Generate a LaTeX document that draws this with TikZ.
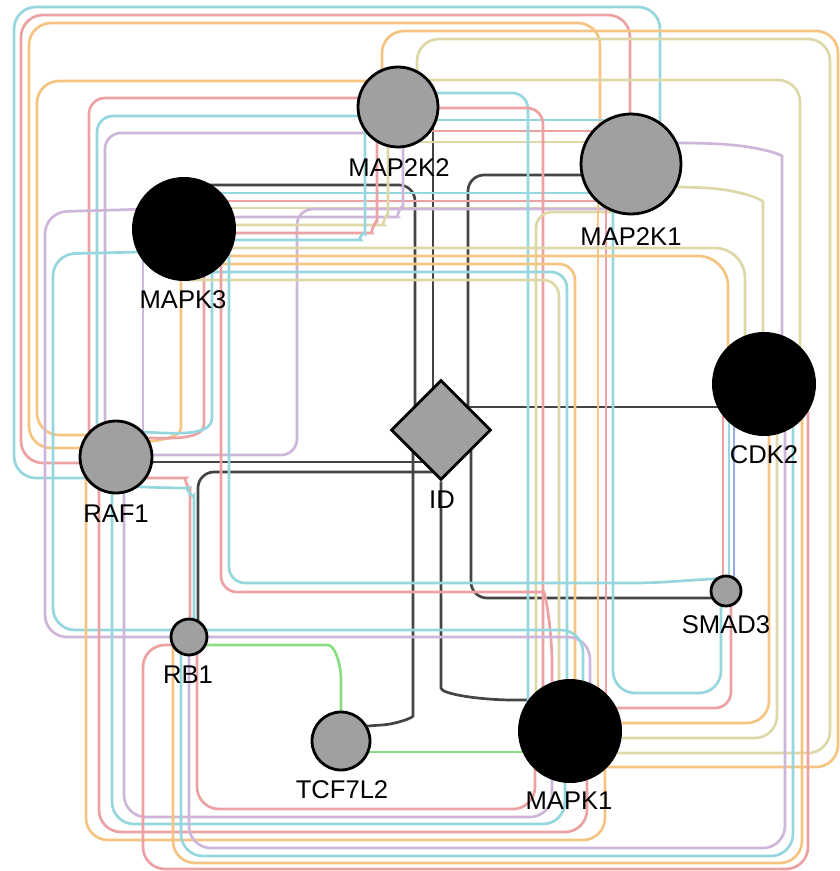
\documentclass[tikz,border=0pt]{standalone}
\usepackage{fontspec}
\setmainfont{Liberation Sans}
\usetikzlibrary{shapes.geometric,backgrounds}

\definecolor{nodegray}{RGB}{160,160,160}
\definecolor{cyanedge}{RGB}{150,214,222}
\definecolor{rededge}{RGB}{236,162,162}
\definecolor{orangeedge}{RGB}{246,196,130}
\definecolor{purpleedge}{RGB}{206,182,218}
\definecolor{khakiedge}{RGB}{222,216,168}
\definecolor{greenedge}{RGB}{140,220,130}
\definecolor{blueedge}{RGB}{150,172,226}
\definecolor{darkedge}{RGB}{68,68,68}

\tikzset{
  gnode/.style={circle, fill=nodegray, draw=black, line width=2.8pt, inner sep=0pt},
  bnode/.style={circle, fill=black, inner sep=0pt},
  lbl/.style={anchor=base, inner sep=0pt, font=\fontsize{25.6}{28}\selectfont},
  ln/.style={line width=2.7pt, rounded corners=16pt},
  darkln/.style={ln, draw=darkedge},
  cyanln/.style={ln, draw=cyanedge},
  redln/.style={ln, draw=rededge},
  orangeln/.style={ln, draw=orangeedge},
  purpleln/.style={ln, draw=purpleedge},
  khakiln/.style={ln, draw=khakiedge},
  greenln/.style={ln, draw=greenedge},
  blueln/.style={ln, draw=blueedge}
}

\begin{document}
\begin{tikzpicture}[x=1pt, y=-1pt]
\useasboundingbox (0,0) rectangle (840,871);

% nodes
\node[gnode, minimum size=80pt] (map2k2) at (398,107) {};
\node[gnode, minimum size=100pt] (map2k1) at (631,164) {};
\node[bnode, minimum size=104pt] (mapk3) at (184,229) {};
\node[bnode, minimum size=104pt] (cdk2) at (764,384) {};
\node[diamond, aspect=1, fill=nodegray, draw=black, line width=2.8pt, inner sep=0pt, minimum size=100pt] (id) at (441,430) {};
\node[gnode, minimum size=72pt] (raf1) at (116,457) {};
\node[gnode, minimum size=30pt] (smad3) at (726,591) {};
\node[gnode, minimum size=36pt] (rb1) at (189,637) {};
\node[gnode, minimum size=58pt] (tcf7l2) at (341,741) {};
\node[bnode, minimum size=104pt] (mapk1) at (570,731) {};

% labels
\node[lbl] (map2k2l) at (399,176) {MAP2K2};
\node[lbl] (map2k1l) at (631,245) {MAP2K1};
\node[lbl] (mapk3l) at (183,308) {MAPK3};
\node[lbl] (cdk2l) at (764,463) {CDK2};
\node[lbl] (idl) at (442,508) {ID};
\node[lbl] (raf1l) at (116,522) {RAF1};
\node[lbl] (smad3l) at (726,633) {SMAD3};
\node[lbl] (rb1l) at (188,683) {RB1};
\node[lbl] (tcf7l2l) at (342,798) {TCF7L2};
\node[lbl] (mapk1l) at (569,809) {MAPK1};

\begin{scope}[on background layer]
% ID edges
\draw[darkln] (mapk3 |- 0,185) -- (415,185) -- (id -| 415,0);
\draw[darkln] (map2k2 -| 433,0) -- (id -| 433,0);
\draw[darkln] (map2k1 |- 0,175) -- (468,175) -- (id -| 468,0);
\draw[darkln] (id |- 0,407) -- (cdk2 |- 0,407);
\draw[darkln] (raf1 |- 0,462) -- (id |- 0,462);
\draw[darkln] (id |- 0,472) -- (198,472) -- (rb1 -| 198,0);
\draw[darkln] (id) -- (441,672) .. controls (441,694) and (480,700) .. (530,700) -- (mapk1 |- 0,700);
\draw[darkln] (id -| 471,0) -- (471,598) -- (smad3 |- 0,598);
\draw[darkln] (id -| 413,0) -- (413,700) .. controls (413,718) and (395,724) .. (368,726) -- (tcf7l2 |- 0,728);

% green and blue
\draw[greenln] (rb1 |- 0,645) -- (312,645) .. controls (335,645) and (341,665) .. (341,695) -- (tcf7l2);
\draw[greenln] (tcf7l2 |- 0,752) -- (mapk1 |- 0,752);
\draw[blueln] (cdk2 -| 734,0) -- (smad3 -| 734,0);

% outer loops RAF1
\draw[cyanln, rounded corners=22pt] (raf1 |- 0,478) -- (14,478) -- (14,7) -- (660,7) -- (map2k1 -| 660,0);
\draw[redln, rounded corners=22pt] (raf1 |- 0,463) -- (21,463) -- (21,15) -- (630,15) -- (map2k1 -| 630,0);
\draw[orangeln, rounded corners=22pt] (raf1 |- 0,448) -- (29,448) -- (29,23) -- (600,23) -- (map2k1 -| 600,0);

% MAP2K2 - RAF1
\draw[orangeln, rounded corners=22pt] (map2k2 |- 0,81) -- (37,81) -- (37,435) -- (raf1 |- 0,435);
\draw[redln] (map2k2 |- 0,98) -- (89,98) -- (raf1 -| 89,0);
\draw[cyanln] (map2k2 |- 0,116) -- (97,116) -- (raf1 -| 97,0);
\draw[purpleln] (map2k2 |- 0,133) -- (105,133) -- (raf1 -| 105,0);

% MAPK3 - RAF1
\draw[purpleln] (mapk3 -| 143,0) -- (raf1 -| 143,0);
\draw[orangeln] (mapk3 -| 181,0) -- (181,412) to[out=-90,in=0] (raf1 |- 0,443);
\draw[redln] (mapk3 -| 204,0) -- (204,408) to[out=-90,in=0] (raf1 |- 0,437);
\draw[cyanln] (mapk3 -| 212,0) -- (212,402) to[out=-90,in=0] (raf1 |- 0,431);

% MAPK3 - MAP2K1
\draw[cyanln] (mapk3 |- 0,193) -- (map2k1 |- 0,193);
\draw[redln] (mapk3 |- 0,201) -- (map2k1 |- 0,201);
\draw[khakiln] (mapk3 |- 0,208) -- (map2k1 |- 0,208);

% MAP2K1 - RAF1
\draw[purpleln] (map2k1 |- 0,209) -- (297,209) -- (297,455) -- (raf1 |- 0,455);

% MAPK3 - MAP2K2
\draw[purpleln] (mapk3 |- 0,217) -- (382,217) to[out=0,in=-90] (403,190) -- (map2k2 -| 403,0);
\draw[khakiln] (mapk3 |- 0,225) -- (368,225) to[out=0,in=-90] (388,198) -- (map2k2 -| 388,0);
\draw[redln] (mapk3 |- 0,233) -- (356,233) to[out=0,in=-90] (377,205) -- (map2k2 -| 377,0);
\draw[cyanln] (mapk3 |- 0,240) -- (345,240) to[out=0,in=-90] (365,218) -- (map2k2 -| 365,0);

% MAP2K2 - MAP2K1
\draw[cyanln] (map2k2 |- 0,120) -- (map2k1 |- 0,120);
\draw[redln] (map2k2 |- 0,131) -- (map2k1 |- 0,131);
\draw[khakiln] (map2k2 |- 0,142) -- (map2k1 |- 0,142);

% MAP2K2 - MAPK1
\draw[cyanln] (map2k2 |- 0,93) -- (528,93) -- (mapk1 -| 528,0);
\draw[redln] (map2k2 |- 0,108) -- (543,108) -- (mapk1 -| 543,0);
\draw[orangeln, rounded corners=22pt] (map2k2 -| 382,0) -- (382,31) -- (838,31) -- (838,767) -- (mapk1 |- 0,767);
\draw[khakiln, rounded corners=22pt] (map2k2 -| 417,0) -- (417,39) -- (830,39) -- (830,753) -- (mapk1 |- 0,753);

% MAP2K2, MAP2K1 - CDK2
\draw[khakiln, rounded corners=22pt] (map2k2 |- 0,80) -- (800,80) -- (cdk2 -| 800,0);
\draw[purpleln] (map2k1 |- 0,143) -- (700,143) .. controls (760,146) and (782,155) .. (782,172) -- (cdk2 -| 782,0);
\draw[khakiln] (map2k1 |- 0,187) -- (690,187) .. controls (742,190) and (763,200) .. (763,218) -- (cdk2 -| 763,0);

% MAP2K1 - MAPK1, SMAD3
\draw[khakiln] (map2k1 |- 0,212) -- (536,212) -- (mapk1 -| 536,0);
\draw[orangeln] (map2k1 -| 598,0) -- (mapk1 -| 598,0);
\draw[redln] (map2k1 -| 606,0) -- (mapk1 -| 606,0);
\draw[cyanln, rounded corners=22pt] (map2k1 -| 613,0) -- (613,693) -- (721,693) -- (smad3 -| 721,0);

% MAPK3 - CDK2
\draw[khakiln, rounded corners=30pt] (mapk3 |- 0,248) -- (745,248) -- (cdk2 -| 745,0);
\draw[orangeln, rounded corners=30pt] (mapk3 |- 0,256) -- (728,256) -- (cdk2 -| 728,0);

% MAPK3 - MAPK1
\draw[orangeln] (mapk3 |- 0,264) -- (575,264) -- (mapk1 -| 575,0);
\draw[cyanln] (mapk3 |- 0,272) -- (567,272) -- (mapk1 -| 567,0);
\draw[khakiln] (mapk3 |- 0,280) -- (559,280) -- (mapk1 -| 559,0);
\draw[redln] (mapk3 -| 221,0) -- (221,592) -- (528,592) .. controls (545,592) and (552,630) .. (552,680) -- (mapk1 -| 552,0);
\draw[purpleln, rounded corners=22pt] (mapk3 |- 0,208) -- (45,212) -- (45,637) -- (590,637) -- (mapk1 -| 590,0);
\draw[cyanln, rounded corners=22pt] (mapk3 |- 0,251) -- (53,254) -- (53,630) -- (583,630) -- (mapk1 -| 583,0);

% MAPK3 - SMAD3
\draw[cyanln] (mapk3 -| 229,0) -- (229,583) -- (650,583) -- (smad3 |- 0,578);

% RAF1 - MAPK1
\draw[orangeln, rounded corners=22pt] (raf1 -| 86,0) -- (86,840) -- (605,840) -- (mapk1 -| 605,0);
\draw[redln, rounded corners=22pt] (raf1 -| 99,0) -- (99,832) -- (587,832) -- (mapk1 -| 587,0);
\draw[cyanln, rounded corners=22pt] (raf1 -| 112,0) -- (112,824) -- (565,824) -- (mapk1 -| 565,0);
\draw[purpleln, rounded corners=22pt] (raf1 -| 124,0) -- (124,817) -- (552,817) -- (mapk1 -| 552,0);

% RAF1 - RB1
\draw[redln] (raf1 |- 0,478) -- (170,478) to[out=0,in=90] (190,505) -- (rb1 -| 190,0);
\draw[cyanln] (raf1 |- 0,486) -- (172,488) to[out=0,in=90] (194,512) -- (rb1 -| 194,0);

% RB1 - MAPK1, CDK2
\draw[redln, rounded corners=22pt] (rb1 -| 197,0) -- (197,809) -- (535,809) -- (mapk1 -| 535,0);
\draw[purpleln, rounded corners=22pt] (rb1 -| 189,0) -- (189,848) -- (785,848) -- (cdk2 -| 785,0);
\draw[cyanln, rounded corners=22pt] (rb1 -| 181,0) -- (181,856) -- (793,856) -- (cdk2 -| 793,0);
\draw[orangeln, rounded corners=22pt] (rb1 -| 173,0) -- (173,863) -- (802,863) -- (cdk2 -| 802,0);
\draw[redln, rounded corners=22pt] (rb1 |- 0,645) -- (143,645) -- (143,869) -- (808,869) -- (cdk2 -| 808,0);

% CDK2 - MAPK1, SMAD3
\draw[orangeln, rounded corners=22pt] (cdk2 -| 769,0) -- (769,723) -- (mapk1 |- 0,723);
\draw[khakiln, rounded corners=22pt] (cdk2 -| 777,0) -- (777,738) -- (mapk1 |- 0,738);
\draw[redln] (cdk2 -| 723,0) -- (smad3 -| 723,0);
\draw[cyanln] (cdk2 -| 729,0) -- (smad3 -| 729,0);

% SMAD3 - MAPK1
\draw[redln] (smad3 -| 731,0) -- (731,708) -- (mapk1 |- 0,708);
\end{scope}
\end{tikzpicture}
\end{document}
